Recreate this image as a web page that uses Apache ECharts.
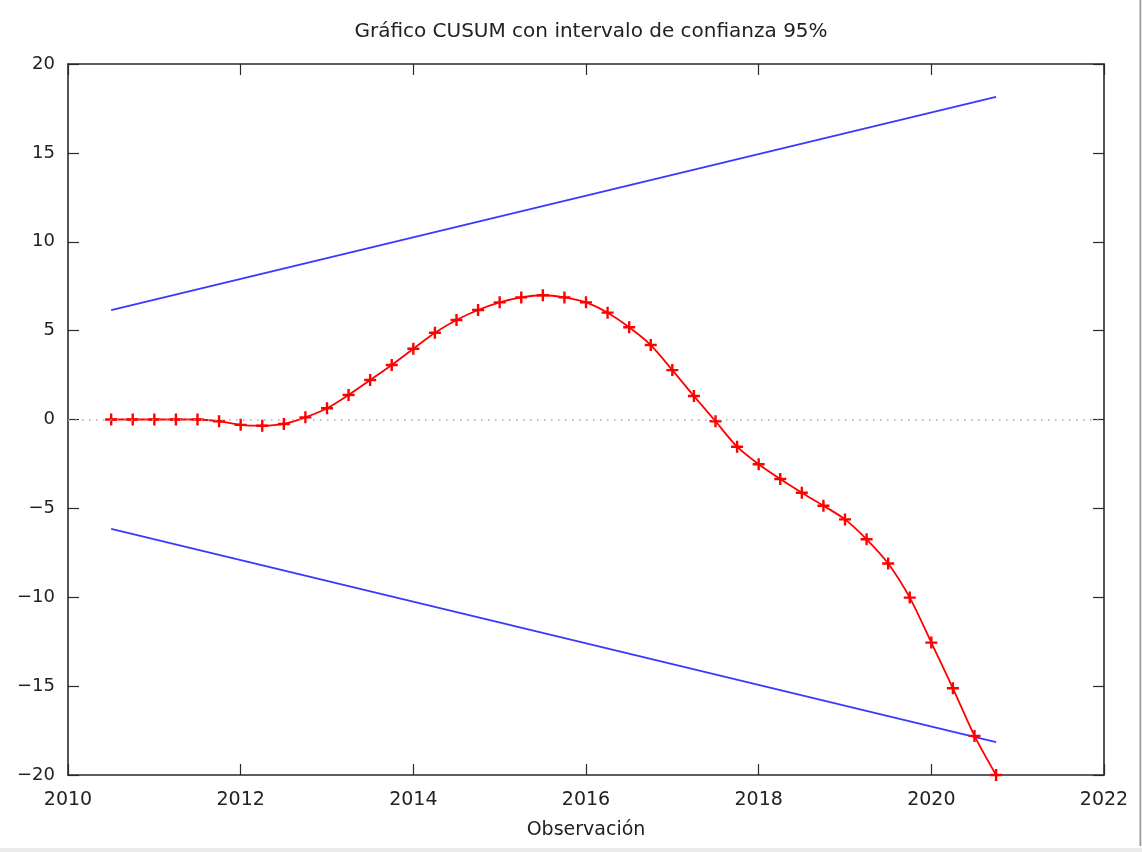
<!DOCTYPE html>
<html>
<head>
<meta charset="utf-8">
<script src="https://cdn.jsdelivr.net/npm/echarts@6/dist/echarts.min.js"></script>
<style>
html,body{margin:0;padding:0;background:#fff;}
#chart{width:1142px;height:852px;}
</style>
</head>
<body>
<div id="chart"></div>
<script>
var titleText = 'Gráfico CUSUM con intervalo de confianza 95%';
var xName = 'Observación';
var periods = [2010.5,2010.75,2011,2011.25,2011.5,2011.75,2012,2012.25,2012.5,2012.75,
  2013,2013.25,2013.5,2013.75,2014,2014.25,2014.5,2014.75,2015,2015.25,2015.5,2015.75,
  2016,2016.25,2016.5,2016.75,2017,2017.25,2017.5,2017.75,2018,2018.25,2018.5,2018.75,
  2019,2019.25,2019.5,2019.75,2020,2020.25,2020.5,2020.75];
var cusum = [0,0,0,0,0,-0.1,-0.3,-0.35,-0.25,0.12,
  0.63,1.38,2.22,3.07,3.98,4.88,5.6,6.16,6.59,6.87,6.99,6.87,
  6.59,6.01,5.19,4.19,2.78,1.32,-0.1,-1.53,-2.52,-3.35,-4.12,-4.85,
  -5.62,-6.74,-8.1,-10.02,-12.55,-15.12,-17.8,-20.0];
var boundX = [2010.5, 2020.75];
var upperBound = [6.15, 18.15];
var lowerBound = [-6.15, -18.15];
var xTicks = {min: 2010, max: 2022, interval: 2};
var yTicks = {min: -20, max: 20, interval: 5};

function pairs(xs, ys){ return xs.map(function(x,i){ return [x, ys[i]]; }); }

var font = 'DejaVu Sans';
var axisColor = '#2a2a2a';
var chart = echarts.init(document.getElementById('chart'), null, {renderer:'canvas'});
var plus = 'path://M4,0H6V4H10V6H6V10H4V6H0V4H4Z';

function fmt(v){ return v < 0 ? '\u2212' + String(-v) : String(v); }

function xAxisCfg(pos, showLabel){
  return {
    type:'value', position:pos, min:xTicks.min, max:xTicks.max, interval:xTicks.interval,
    name: showLabel ? xName : '', nameLocation:'middle', nameGap:46,
    nameTextStyle:{fontFamily:font, fontSize:19, color:'#222'},
    axisLine:{show:true, onZero:false, lineStyle:{color:axisColor, width:1.6}},
    axisTick:{show:true, inside:true, length:11, lineStyle:{color:axisColor, width:1.2}},
    axisLabel:{show:showLabel, margin:16, fontFamily:font, fontSize:19, color:'#222',
      formatter:fmt},
    splitLine:{show:false}
  };
}
function yAxisCfg(pos, showLabel){
  return {
    type:'value', position:pos, min:yTicks.min, max:yTicks.max, interval:yTicks.interval,
    axisLine:{show:true, onZero:false, lineStyle:{color:axisColor, width:1.6}},
    axisTick:{show:true, inside:true, length:11, lineStyle:{color:axisColor, width:1.2}},
    axisLabel:{show:showLabel, margin:13, fontFamily:font, fontSize:18, color:'#222',
      formatter:fmt},
    splitLine:{show:false}
  };
}

chart.setOption({
  animation:false,
  backgroundColor:'#fff',
  title:{text:titleText, left:586, textAlign:'center', top:17,
    textStyle:{fontFamily:font, fontSize:20, fontWeight:'normal', color:'#222'}},
  grid:{left:68, right:38, top:64, bottom:77, containLabel:false},
  xAxis:[xAxisCfg('bottom', true), xAxisCfg('top', false)],
  yAxis:[yAxisCfg('left', true), yAxisCfg('right', false)],
  graphic:[
    {type:'rect', shape:{x:1139.5, y:0, width:1.8, height:846}, style:{fill:'#9a9a9a'}, silent:true},
    {type:'rect', shape:{x:0, y:848, width:1142, height:4}, style:{fill:'#ececec'}, silent:true}
  ],
  series:[
    {type:'line', name:'upper', data:pairs(boundX, upperBound), showSymbol:false, symbol:'none',
      lineStyle:{color:'#3a3aff', width:1.9}, silent:true},
    {type:'line', name:'lower', data:pairs(boundX, lowerBound), showSymbol:false, symbol:'none',
      lineStyle:{color:'#3a3aff', width:1.9}, silent:true},
    {type:'line', name:'CUSUM', data:pairs(periods, cusum), smooth:0.3,
      symbol:plus, symbolSize:12, showAllSymbol:true, clip:false,
      itemStyle:{color:'#ff0000'}, lineStyle:{color:'#ff0000', width:1.8},
      markLine:{silent:true, symbol:'none', label:{show:false},
        lineStyle:{color:'#aaaaaa', type:[1.5,5.5], width:1.5},
        data:[{yAxis:0}]},
      z:3}
  ]
});
</script>
</body>
</html>
